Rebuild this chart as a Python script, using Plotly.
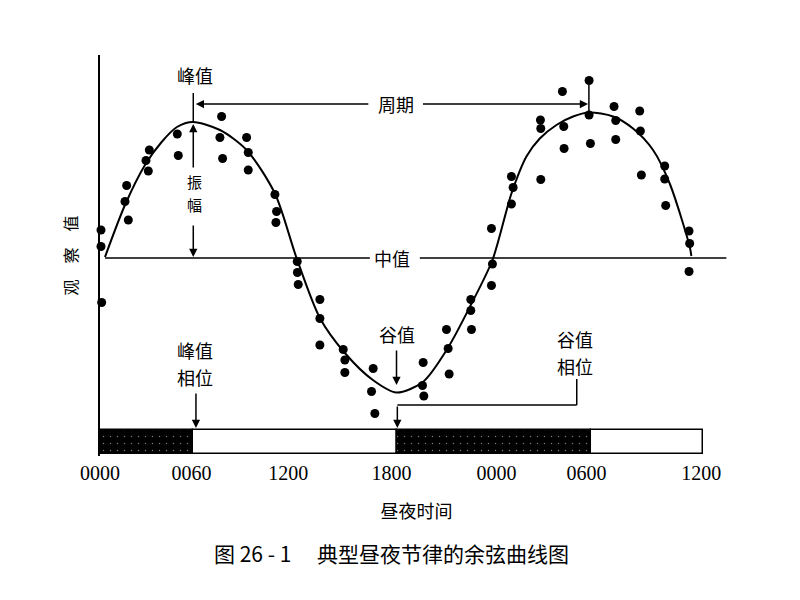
import plotly.graph_objects as go

# ---------------- data (hours on a 0-36 h time axis, observed value) ----------------
obs_hours = [0.06, 0.06, 0.1, 1.6, 1.5, 1.7, 2.76, 2.9, 2.96, 4.64, 4.7,
             7.3, 7.2, 7.36, 8.8, 8.9, 8.9, 10.5, 10.6, 10.56,
             11.84, 11.85, 11.9, 13.2, 13.2, 13.2, 14.6, 14.7, 14.7,
             16.4, 16.3, 16.5, 19.4, 19.36, 19.44, 20.8, 20.9, 20.96,
             22.26, 22.26, 22.3, 23.5, 23.56, 23.5, 24.7, 24.8, 24.7,
             26.46, 26.44, 26.46, 27.76, 27.84, 27.86, 29.36, 29.36, 29.44,
             30.86, 30.96, 30.96, 32.4, 32.44, 32.5, 33.9, 33.9, 33.96,
             35.36, 35.4, 35.36]
obs_values = [55.6, 52.3, 41.1, 64.5, 61.3, 57.6, 69.5, 67.4, 71.6, 74.8, 70.5,
              78.3, 74.1, 69.9, 74.1, 71.1, 67.6, 62.7, 59.3, 57.1,
              49.3, 47.1, 44.7, 41.7, 37.9, 32.6, 31.7, 29.6, 27.1,
              27.9, 23.3, 18.9, 29.1, 24.5, 22.4, 35.7, 31.9, 26.8,
              41.7, 39.5, 35.7, 44.5, 48.8, 55.9, 66.3, 64.1, 60.8,
              65.7, 77.6, 75.9, 83.3, 76.3, 71.9, 85.5, 78.6, 72.9,
              80.3, 77.5, 73.7, 79.4, 75.4, 66.6, 68.4, 65.8, 60.5,
              55.4, 52.9, 47.3]

curve_hours = [0.3, 1.5, 2.7, 3.7, 4.62, 5.58, 7.2, 8.8, 10.5, 11.8, 13.2,
               14.7, 16.38, 17.8, 19.38, 20.88, 22.26, 23.56, 24.7, 25.6, 26.4,
               27.4, 28.4, 29.36, 30.8, 32.0, 33.2, 34.2, 35.4, 35.5]
curve_values = [50.2, 60.6, 68.6, 73.2, 76.2, 77.2, 75.6, 71.6, 62.9, 50.0, 38.0,
                31.0, 25.6, 23.1, 25.2, 32.0, 40.6, 49.6, 62.9, 70.3, 73.9,
                76.6, 78.3, 79.1, 78.3, 75.9, 71.6, 64.9, 52.3, 50.4]

tick_hours = [0, 5.5, 11.3, 17.5, 23.8, 29.2, 36.1]
tick_labels = ["0000", "0060", "1200", "1800", "0000", "0600", "1200"]

bar_starts = [0, 5.6, 17.8, 29.5]
bar_ends = [5.6, 17.8, 29.5, 36.2]
bar_colors = ["black", "white", "black", "white"]
bar_patterns = [".", "", ".", ""]

mesor = 50
peak_hours = [5.6, 29.4]
peak_values = [77.2, 79.2]
trough_hour = 17.8
trough_value = 23.1

CJK = "Noto Sans CJK SC"
SERIF = "Liberation Serif"

fig = go.Figure()

# light / dark bar
fig.add_trace(go.Bar(
    x=[e - s for s, e in zip(bar_starts, bar_ends)], base=bar_starts,
    y=[13.2] * 4, orientation="h", width=4.9,
    marker=dict(color=bar_colors, line=dict(color="black", width=1.5),
                pattern=dict(shape=bar_patterns, fillmode="overlay",
                             fgcolor="white", size=7, solidity=0.03)),
    hoverinfo="skip", showlegend=False))

# fitted cosine curve
fig.add_trace(go.Scatter(x=curve_hours, y=curve_values, mode="lines",
                         line=dict(color="black", width=2, shape="spline", smoothing=0.8),
                         showlegend=False, hoverinfo="skip"))

# observations
fig.add_trace(go.Scatter(x=obs_hours, y=obs_values, mode="markers",
                         marker=dict(color="black", size=9),
                         cliponaxis=False, showlegend=False))

shapes = []
def line(x0, y0, x1, y1, w=1.5):
    shapes.append(dict(type="line", xref="x", yref="y", x0=x0, y0=y0, x1=x1, y1=y1,
                       line=dict(color="black", width=w)))

# mesor line with gap for the label
line(0.3, mesor, 16.2, mesor)
line(19.2, mesor, 37.6, mesor)
# peak markers
line(peak_hours[0], peak_values[0], peak_hours[0], 83.0)
line(peak_hours[1] - 0.05, peak_values[1], peak_hours[1] - 0.05, 84.6)
# trough phase bracket
line(28.62, 25.8, 28.62, 20.6)
line(28.62, 20.6, trough_hour + 0.05, 20.6)

annotations = []
def arrow(xh, yh, xt, yt):
    annotations.append(dict(x=xh, y=yh, ax=xt, ay=yt, xref="x", yref="y",
                            axref="x", ayref="y", text="", showarrow=True,
                            font=dict(size=1),
                            arrowhead=2, arrowsize=1.1, arrowwidth=1.5,
                            arrowcolor="black", standoff=0, startstandoff=0))

def label(x, y, text, size=18):
    annotations.append(dict(x=x, y=y, xref="x", yref="y", text=text, showarrow=False,
                            font=dict(family=CJK, size=size, color="black")))

# period arrows
arrow(peak_hours[0] + 0.15, 80.8, 16.2, 80.8)
arrow(peak_hours[1] - 0.1, 80.8, 19.3, 80.8)
label(17.76, 80.8, "周期")
label(17.5, mesor, "中值")
label(peak_hours[0] + 0.1, 86.6, "峰值")
# amplitude
arrow(peak_hours[0], 76.8, peak_hours[0], 67.8)
arrow(peak_hours[0], mesor + 0.2, peak_hours[0], 56.8)
label(peak_hours[0] + 0.1, 65.3, "振", size=15)
label(peak_hours[0] + 0.1, 60.8, "幅", size=15)
# trough
label(trough_hour, 34.8, "谷值")
arrow(trough_hour, trough_value + 1.5, trough_hour, 31.8)
# peak phase
label(5.7, 31.6, "峰值")
label(5.7, 26.2, "相位")
arrow(5.76, 16.0, 5.76, 23.2)
# trough phase
label(28.5, 33.8, "谷值")
label(28.5, 28.4, "相位")
arrow(trough_hour + 0.05, 16.0, trough_hour + 0.05, 20.6)

# caption
annotations.append(dict(x=0.46, y=-0.242, xref="paper", yref="paper",
                        xanchor="center", yanchor="middle",
                        text="图 26 - 1　 典型昼夜节律的余弦曲线图", showarrow=False,
                        font=dict(family=CJK, size=21, color="black")))

fig.update_layout(
    width=792, height=592,
    margin=dict(l=92, r=67, t=47, b=144),
    paper_bgcolor="white", plot_bgcolor="white",
    shapes=shapes, annotations=annotations,
    bargap=0,
    xaxis=dict(range=[0, 38], tickmode="array", tickvals=tick_hours,
               ticktext=tick_labels, showgrid=False, zeroline=False,
               showline=False, ticks="", ticklabelstandoff=3,
               tickfont=dict(family=SERIF, size=20, color="black"),
               title=dict(text="昼夜时间", standoff=22,
                          font=dict(family=CJK, size=18, color="black"))),
    yaxis=dict(range=[10.4, 90.6], showgrid=False, zeroline=False,
               showticklabels=False, ticks="", showline=True,
               linecolor="black", linewidth=2,
               title=dict(text="观　察　值", standoff=16,
                          font=dict(family=CJK, size=16, color="black"))),
    font=dict(family=CJK, color="black"),
)

fig.write_html("out.html")
